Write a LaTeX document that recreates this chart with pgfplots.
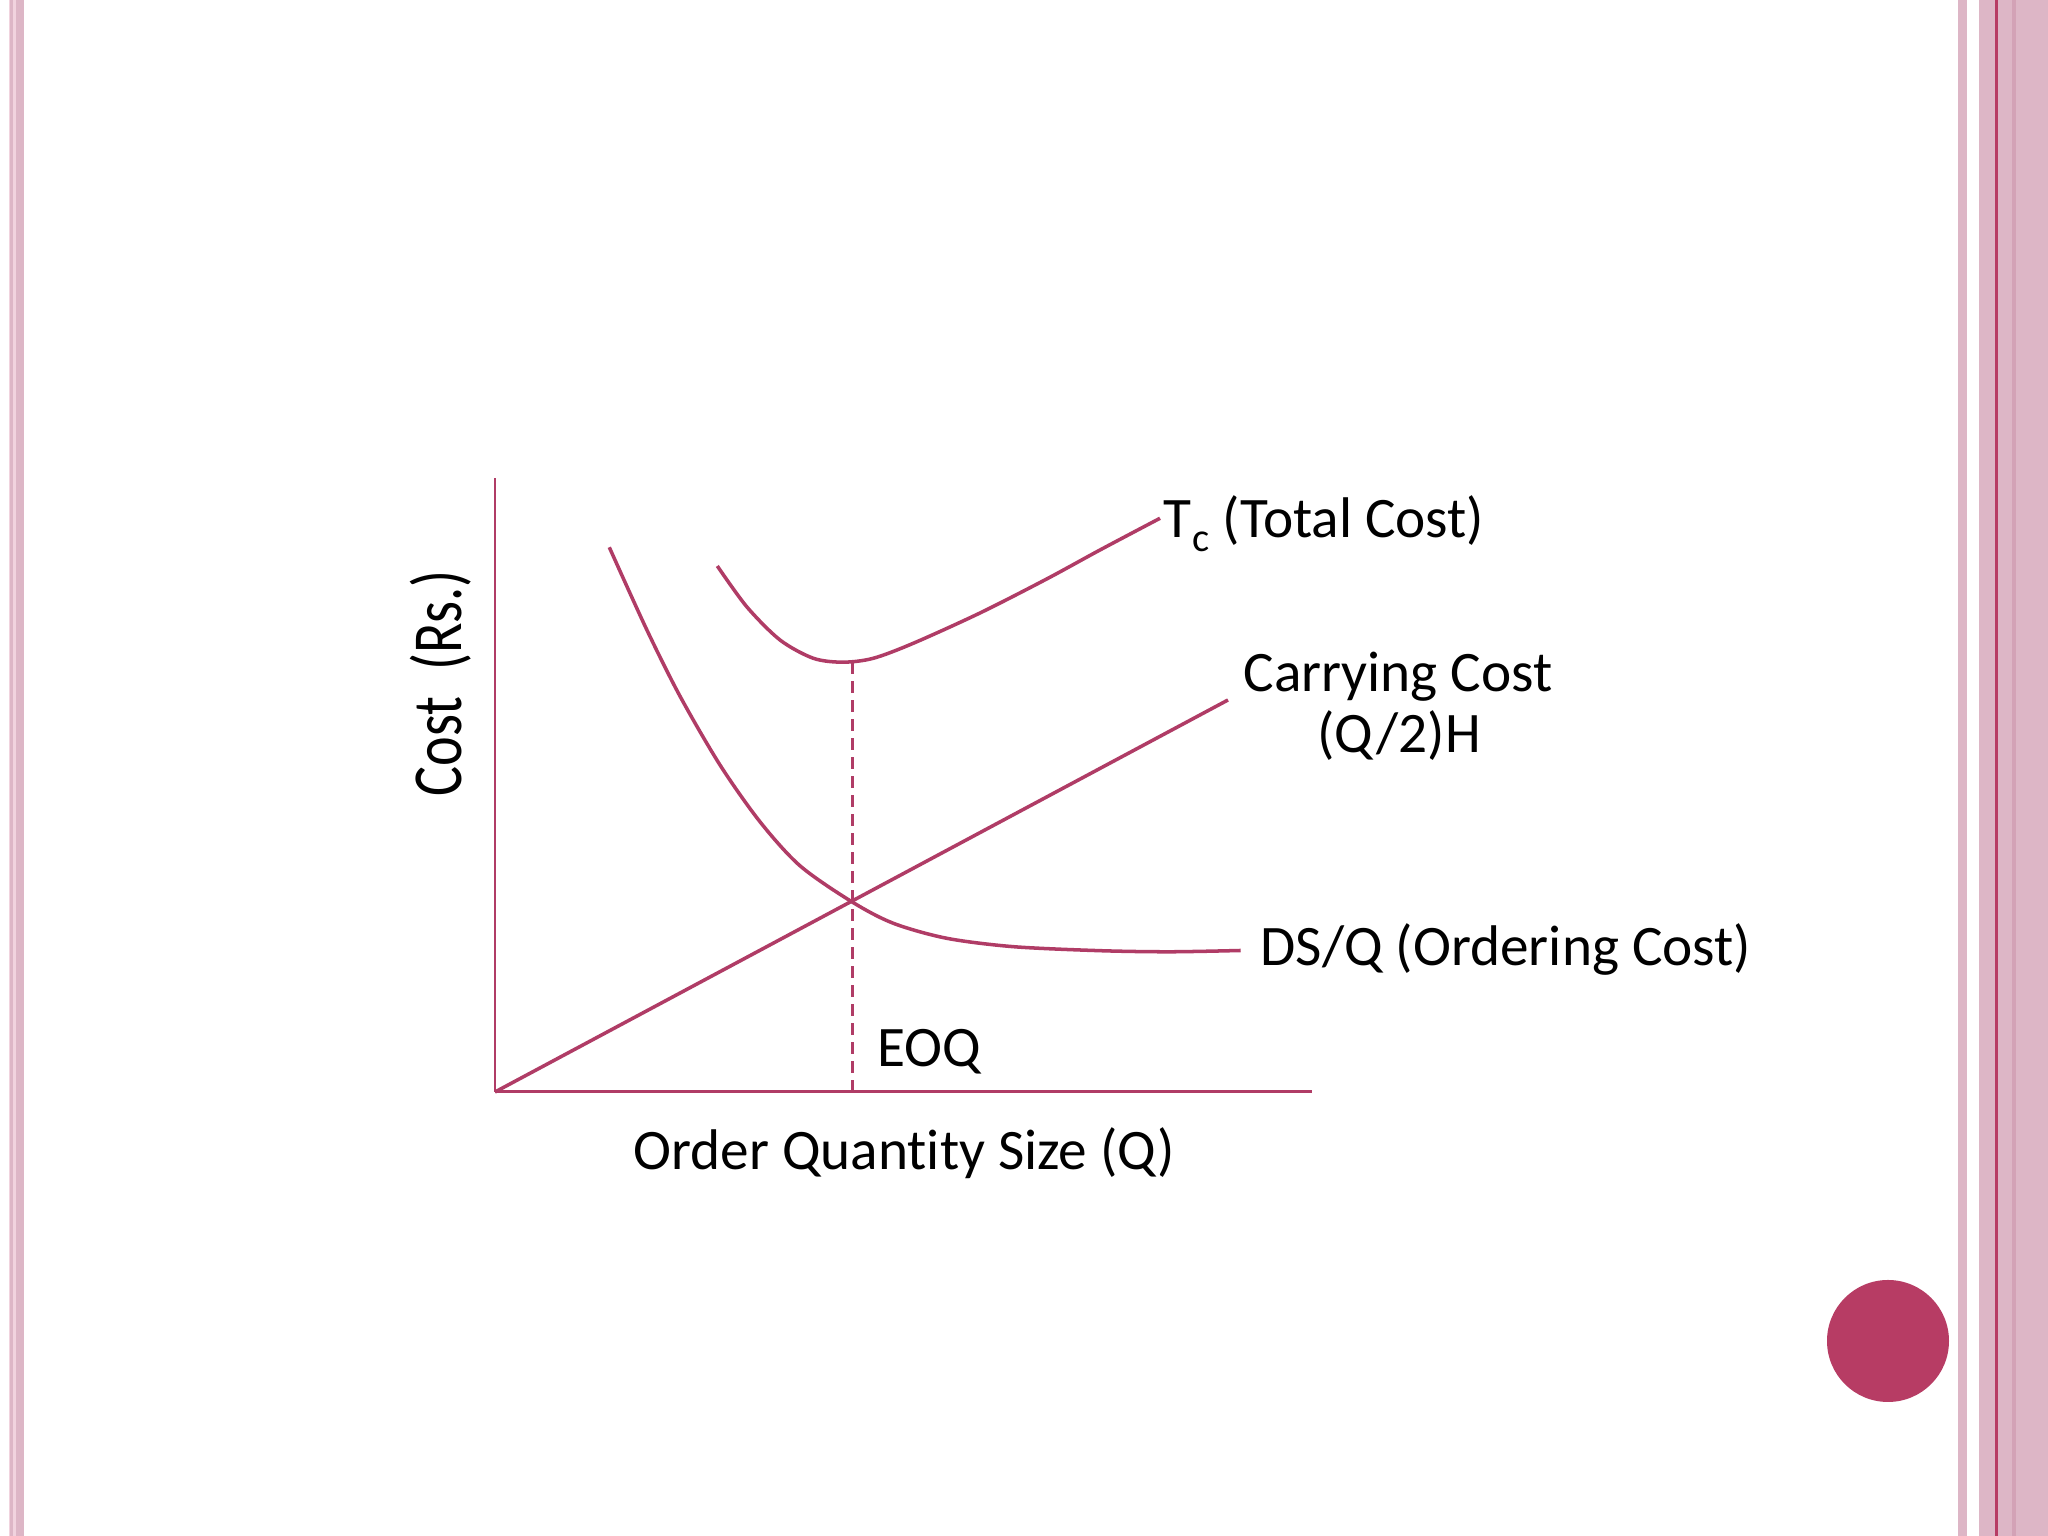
\documentclass[border=0pt]{standalone}
\usepackage{fontspec}
\setmainfont{Carlito}[Ligatures={NoCommon}]
\usepackage{pgfplots}
\pgfplotsset{compat=1.18}

\definecolor{curve}{HTML}{B03C66}
\definecolor{dot}{HTML}{B73C64}
\definecolor{band}{HTML}{DDB6C6}
\definecolor{banddark}{HTML}{D3A2B6}
\definecolor{bandedge}{HTML}{F1D3DE}

\begin{document}
\begin{tikzpicture}
% slide canvas 2048x1536 px, 1 px = 0.01 cm
\path[use as bounding box, fill=white] (0,0) rectangle (20.48,15.36);
% left border stripes
\fill[bandedge] (0.09,0) rectangle (0.145,15.36);
\fill[band] (0.10,0) rectangle (0.133,15.36);
\fill[bandedge] (0.15,0) rectangle (0.245,15.36);
\fill[band] (0.158,0) rectangle (0.237,15.36);
% right border stripes
\fill[band] (19.58,0) rectangle (19.67,15.36);
\fill[band] (19.79,0) rectangle (20.48,15.36);
\fill[banddark] (20.115,0) rectangle (20.16,15.36);
\fill[dot] (19.95,0) rectangle (19.983,15.36);
% page bullet
\fill[dot] (18.88,1.95) circle (0.61);

\begin{axis}[
  at={(4.95cm,4.44cm)}, anchor=origin,
  scale only axis,
  width=8.17cm, height=6.14cm,
  xmin=0, xmax=8.17, ymin=0, ymax=6.14,
  axis lines=left,
  axis line style={-, curve, line width=0.85pt},
  xtick=\empty, ytick=\empty,
  clip=false,
  font=\fontsize{16.3}{19}\selectfont,
]
% carrying cost (Q/2)H
\addplot[curve, line width=1pt] coordinates {(0,0) (7.33,3.92)};
% ordering cost DS/Q
\addplot[curve, line width=1pt, smooth] coordinates {
  (1.143,5.447) (1.517,4.624) (1.85,3.958) (2.25,3.27) (2.65,2.702)
  (3.05,2.262) (3.567,1.903) (3.983,1.687) (4.517,1.537) (5.183,1.453)
  (6.05,1.413) (6.75,1.402) (7.457,1.415)};
% total cost
\addplot[curve, line width=1pt, smooth] coordinates {
  (2.223,5.26) (2.517,4.853) (2.85,4.52) (3.183,4.337) (3.48,4.298)
  (3.783,4.337) (4.183,4.487) (4.85,4.79) (5.517,5.13) (6.05,5.42)
  (6.65,5.737)};
% EOQ marker
\addplot[curve, dash pattern=on 0.12cm off 0.07cm, line width=0.95pt] coordinates {(3.577,0) (3.577,4.29)};

\node[anchor=base west, inner sep=0pt] at (axis cs:6.68,5.54)
  {T\kern0.02em\raisebox{-0.5ex}{\fontsize{11.5}{12}\selectfont c}\ (Total Cost)};
\node[anchor=base, inner sep=0pt] at (axis cs:9.03,4.00) {Carrying Cost};
\node[anchor=base, inner sep=0pt] at (axis cs:9.04,3.39) {(Q/2)H};
\node[anchor=base west, inner sep=0pt] at (axis cs:7.65,1.26) {DS/Q (Ordering Cost)};
\node[anchor=base west, inner sep=0pt] at (axis cs:3.82,0.25) {EOQ};
\node[anchor=base, inner sep=0pt] at (axis cs:4.09,-0.78) {Order Quantity Size (Q)};
\node[anchor=base, rotate=90, inner sep=0pt] at (axis cs:-0.333,4.09)
  {\fontsize{20}{24}\selectfont\scalebox{0.8}[1]{Cost\ \ (Rs.)}};
\end{axis}
\end{tikzpicture}
\end{document}
